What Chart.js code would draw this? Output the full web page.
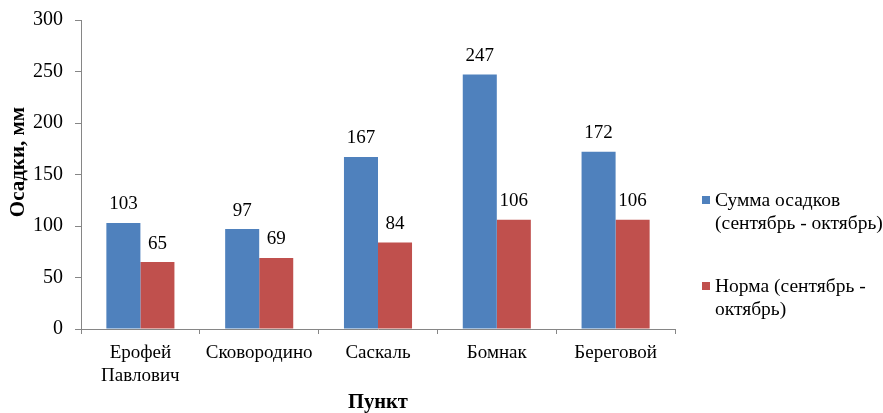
<!DOCTYPE html>
<html>
<head>
<meta charset="utf-8">
<script src="https://cdn.jsdelivr.net/npm/chart.js@4/dist/chart.umd.min.js"></script>
<style>
  html, body { margin: 0; padding: 0; background: #fff; font-family: 'Liberation Serif', serif; }
  #wrap { width: 883px; height: 413px; position: relative; }
</style>
</head>
<body>
<div id="wrap"><canvas id="c" width="883" height="413"></canvas></div>
<script>
// Осадки по пунктам, мм
const categories = [['Ерофей', 'Павлович'], 'Сковородино', 'Саскаль', 'Бомнак', 'Береговой'];
const sumValues = [103, 97, 167, 247, 172];
const normValues = [65, 69, 84, 106, 106];
const seriesNames = [['Сумма осадков', '(сентябрь - октябрь)'], ['Норма (сентябрь -', 'октябрь)']];
const yTicks = [0, 50, 100, 150, 200, 250, 300];
const yTitle = 'Осадки, мм';
const xTitle = 'Пункт';

const FONT = '"Liberation Serif", serif';
const AXIS = '#868686';
Chart.defaults.font.family = FONT;

// value labels above each bar
const valueLabels = {
  id: 'valueLabels',
  afterDatasetsDraw(chart) {
    const ctx = chart.ctx;
    ctx.save();
    ctx.font = '19px ' + FONT;
    ctx.fillStyle = '#000';
    ctx.textAlign = 'center';
    ctx.textBaseline = 'middle';
    chart.data.datasets.forEach((ds, i) => {
      chart.getDatasetMeta(i).data.forEach((bar, j) => {
        ctx.fillText(String(ds.data[j]), bar.x, bar.y - 18.5);
      });
    });
    ctx.restore();
  }
};

// rotated value-axis title
const sideTitle = {
  id: 'sideTitle',
  afterDraw(chart) {
    const ctx = chart.ctx;
    ctx.save();
    ctx.font = 'bold 21px ' + FONT;
    ctx.fillStyle = '#000';
    ctx.textAlign = 'center';
    ctx.textBaseline = 'middle';
    ctx.translate(18.5, 162);
    ctx.rotate(-Math.PI / 2);
    ctx.fillText(yTitle, 0, 0);
    ctx.restore();
  }
};

// legend on the right with wrapped names
const sideLegend = {
  id: 'sideLegend',
  afterDraw(chart) {
    const ctx = chart.ctx;
    ctx.save();
    ctx.font = '19.5px ' + FONT;
    ctx.textBaseline = 'middle';
    ctx.textAlign = 'left';
    const tops = [201, 287];
    chart.data.datasets.forEach((ds, i) => {
      const y = tops[i];
      ctx.fillStyle = ds.backgroundColor;
      ctx.fillRect(702, y - 5, 8, 8);
      ctx.fillStyle = '#000';
      seriesNames[i].forEach((line, k) => ctx.fillText(line, 715, y + k * 22.5));
    });
    ctx.restore();
  }
};

function draw() {
  new Chart(document.getElementById('c'), {
    type: 'bar',
    data: {
      labels: categories,
      datasets: [
        { label: seriesNames[0].join(' '), data: sumValues, backgroundColor: '#4F81BD' },
        { label: seriesNames[1].join(' '), data: normValues, backgroundColor: '#C0504D' }
      ]
    },
    options: {
      responsive: false,
      animation: false,
      layout: { padding: { top: 20, right: 208, bottom: 0, left: 0 } },
      datasets: { bar: { categoryPercentage: 0.573, barPercentage: 1.0 } },
      plugins: { legend: { display: false }, tooltip: { enabled: false } },
      scales: {
        x: {
          grid: { display: true, drawOnChartArea: false, offset: true, tickLength: 5, color: AXIS },
          border: { display: true, color: AXIS, width: 1 },
          ticks: { color: '#000', font: { family: FONT, size: 19, lineHeight: 1.21 }, padding: 8, maxRotation: 0, autoSkip: false },
          title: { display: true, text: xTitle, color: '#000', font: { family: FONT, size: 20.5, weight: 'bold', lineHeight: 1.0 }, padding: { top: 0, bottom: 0 } },
          afterFit(s) { s.height = 84; }
        },
        y: {
          min: 0, max: 300,
          afterBuildTicks(s) { s.ticks = yTicks.map(v => ({ value: v })); },
          grid: { display: true, drawOnChartArea: false, tickLength: 6, color: AXIS },
          border: { display: true, color: AXIS, width: 1 },
          ticks: { color: '#000', font: { family: FONT, size: 20, lineHeight: 1.0 }, padding: 12 },
          afterFit(s) { s.width = 81; s.paddingTop = 0; s.paddingBottom = 0; }
        }
      }
    },
    plugins: [valueLabels, sideTitle, sideLegend]
  });
}

Promise.all([
  document.fonts.load('19px "Liberation Serif"'),
  document.fonts.load('bold 20px "Liberation Serif"')
]).then(draw, draw);
</script>
</body>
</html>
